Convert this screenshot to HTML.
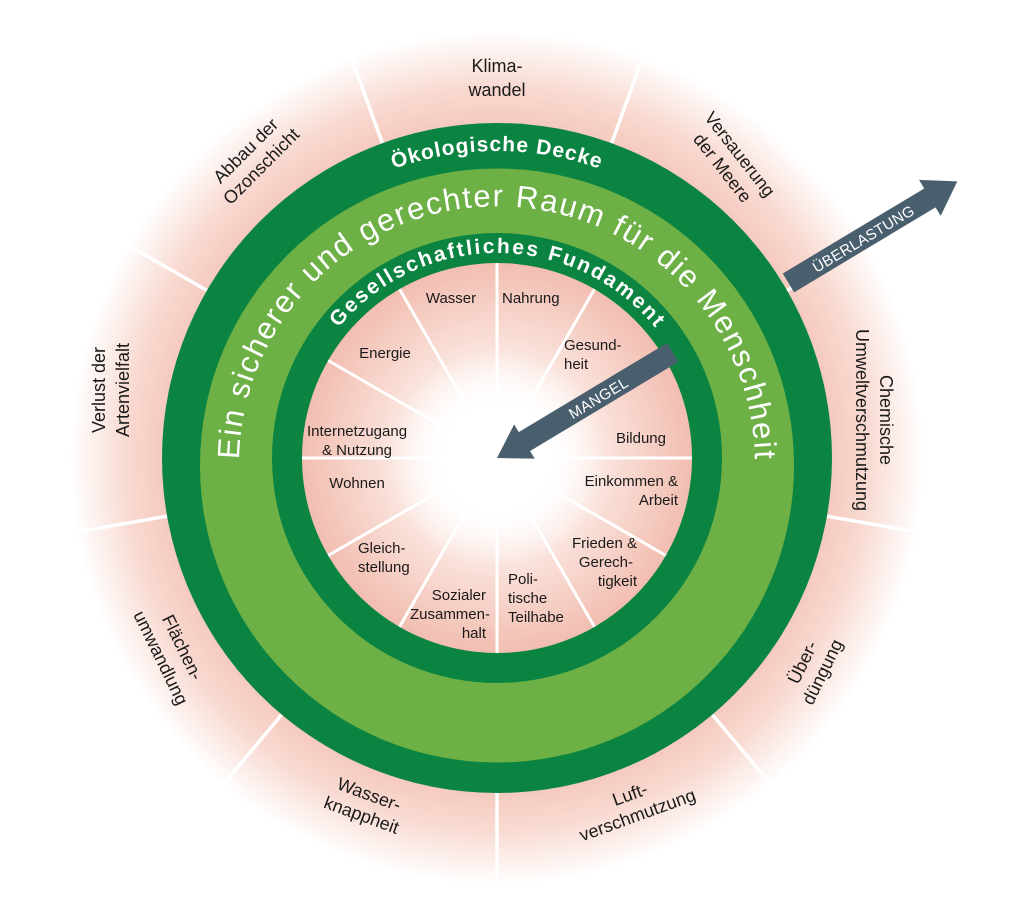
<!DOCTYPE html>
<html><head><meta charset="utf-8"><style>
html,body{margin:0;padding:0;background:#fff;width:1024px;height:919px;overflow:hidden}
svg{display:block}
text{font-family:"Liberation Sans","DejaVu Sans",sans-serif}
.o{font-size:18px;fill:#1a1a1a;text-anchor:middle}
.i{font-size:15px;fill:#1a1a1a}
</style></head><body>
<svg width="1024" height="919" viewBox="0 0 1024 919">
<defs>
<radialGradient id="og" cx="497" cy="458" r="440" gradientUnits="userSpaceOnUse">
<stop offset="0.7" stop-color="#f3bfb1"/>
<stop offset="0.84" stop-color="#f8d9d0"/>
<stop offset="0.97" stop-color="#ffffff"/>
</radialGradient>
<radialGradient id="ig" cx="497" cy="458" r="196" gradientUnits="userSpaceOnUse">
<stop offset="0" stop-color="#ffffff"/>
<stop offset="0.25" stop-color="#ffffff"/>
<stop offset="0.55" stop-color="#fae3dc"/>
<stop offset="1" stop-color="#f2bdb0"/>
</radialGradient>
<radialGradient id="cg" cx="497" cy="458" r="110" gradientUnits="userSpaceOnUse">
<stop offset="0" stop-color="#fff" stop-opacity="1"/>
<stop offset="0.5" stop-color="#fff" stop-opacity="0.9"/>
<stop offset="1" stop-color="#fff" stop-opacity="0"/>
</radialGradient>
<path id="p1" d="M190,458 A307,307 0 0 1 804,458"/>
<path id="p2" d="M240,487 A258,258 0 1 1 754,487"/>
<path id="p3" d="M292,458 A205,205 0 0 1 702,458"/>
</defs>
<circle cx="497" cy="458" r="440" fill="url(#og)"/>
<g transform="translate(497,458)" stroke="#fff" stroke-width="3.5">
<line x1="0" y1="-335" x2="0" y2="-440" transform="rotate(20)"/>
<line x1="0" y1="-335" x2="0" y2="-440" transform="rotate(-20)"/>
<line x1="0" y1="-335" x2="0" y2="-440" transform="rotate(60)"/>
<line x1="0" y1="-335" x2="0" y2="-440" transform="rotate(-60)"/>
<line x1="0" y1="-335" x2="0" y2="-440" transform="rotate(100)"/>
<line x1="0" y1="-335" x2="0" y2="-440" transform="rotate(-100)"/>
<line x1="0" y1="-335" x2="0" y2="-440" transform="rotate(140)"/>
<line x1="0" y1="-335" x2="0" y2="-440" transform="rotate(-140)"/>
<line x1="0" y1="-335" x2="0" y2="-440" transform="rotate(180)"/>
</g>
<circle cx="497" cy="458" r="335" fill="#0b8441"/>
<circle cx="497" cy="465.5" r="297" fill="#6db045"/>
<circle cx="497" cy="458" r="225" fill="#0b8441"/>
<circle cx="497" cy="458" r="195" fill="url(#ig)"/>
<g transform="translate(497,458)" stroke="#fff" stroke-width="3">
<line x1="0" y1="-40" x2="0" y2="-195"/>
<line x1="0" y1="-40" x2="0" y2="-195" transform="rotate(30)"/>
<line x1="0" y1="-40" x2="0" y2="-195" transform="rotate(60)"/>
<line x1="0" y1="-40" x2="0" y2="-195" transform="rotate(90)"/>
<line x1="0" y1="-40" x2="0" y2="-195" transform="rotate(120)"/>
<line x1="0" y1="-40" x2="0" y2="-195" transform="rotate(150)"/>
<line x1="0" y1="-40" x2="0" y2="-195" transform="rotate(180)"/>
<line x1="0" y1="-40" x2="0" y2="-195" transform="rotate(210)"/>
<line x1="0" y1="-40" x2="0" y2="-195" transform="rotate(240)"/>
<line x1="0" y1="-40" x2="0" y2="-195" transform="rotate(270)"/>
<line x1="0" y1="-40" x2="0" y2="-195" transform="rotate(300)"/>
<line x1="0" y1="-40" x2="0" y2="-195" transform="rotate(330)"/>
</g>
<circle cx="497" cy="458" r="110" fill="url(#cg)"/>

<text font-size="21" font-weight="bold" fill="#fff" letter-spacing="1"><textPath href="#p1" startOffset="50%" text-anchor="middle">Ökologische Decke</textPath></text>
<text font-size="31" fill="#fff"><textPath href="#p2" startOffset="50%" text-anchor="middle" textLength="800" lengthAdjust="spacing">Ein sicherer und gerechter Raum für die Menschheit</textPath></text>
<text font-size="21" font-weight="bold" fill="#fff"><textPath href="#p3" startOffset="50%" text-anchor="middle" textLength="362" lengthAdjust="spacing">Gesellschaftliches Fundament</textPath></text>

<!-- arrows -->
<g transform="translate(497,458) rotate(-31)" fill="#4a5f6e">
<polygon points="0,0 32,-20 32,-11 205,-11 205,11 32,11 32,20"/>
<text x="118" y="6" font-size="15" fill="#fff" text-anchor="middle" letter-spacing="0.5">MANGEL</text>
<polygon points="340,-11 505,-11 505,-21 537,0 505,21 505,11 340,11"/>
<text x="427" y="6" font-size="15" fill="#fff" text-anchor="middle" letter-spacing="0.3">ÜBERLASTUNG</text>
</g>

<!-- outer labels -->
<text class="o" x="497" y="72">Klima-<tspan x="497" dy="24">wandel</tspan></text>
<text class="o" transform="translate(735,158) rotate(52)">Versauerung<tspan x="0" dy="22">der Meere</tspan></text>
<text class="o" transform="translate(880,420) rotate(90)">Chemische<tspan x="0" dy="24">Umweltverschmutzung</tspan></text>
<text class="o" transform="translate(808,665) rotate(-64)">Über-<tspan x="0" dy="22">düngung</tspan></text>
<text class="o" transform="translate(632,800) rotate(-20)">Luft-<tspan x="0" dy="22">verschmutzung</tspan></text>
<text class="o" transform="translate(367,800) rotate(20)">Wasser-<tspan x="0" dy="22">knappheit</tspan></text>
<text class="o" transform="translate(177,650) rotate(64)">Flächen-<tspan x="0" dy="24">umwandlung</tspan></text>
<text class="o" transform="translate(105,390) rotate(-90)">Verlust der<tspan x="0" dy="24">Artenvielfalt</tspan></text>
<text class="o" transform="translate(250,155) rotate(-45)">Abbau der<tspan x="0" dy="22">Ozonschicht</tspan></text>

<!-- inner labels -->
<text class="i" x="451" y="303" text-anchor="middle">Wasser</text>
<text class="i" x="502" y="303">Nahrung</text>
<text class="i" x="564" y="350">Gesund-<tspan x="564" dy="19">heit</tspan></text>
<text class="i" x="385" y="358" text-anchor="middle">Energie</text>
<text class="i" x="357" y="436" text-anchor="middle">Internetzugang<tspan x="357" dy="19">&amp; Nutzung</tspan></text>
<text class="i" x="666" y="443" text-anchor="end">Bildung</text>
<text class="i" x="357" y="488" text-anchor="middle">Wohnen</text>
<text class="i" x="678" y="486" text-anchor="end">Einkommen &amp;<tspan x="678" dy="19">Arbeit</tspan></text>
<text class="i" x="358" y="553">Gleich-<tspan x="358" dy="19">stellung</tspan></text>
<text class="i" x="637" y="548" text-anchor="end">Frieden &amp;<tspan x="633" dy="19">Gerech-</tspan><tspan x="637" dy="19">tigkeit</tspan></text>
<text class="i" x="508" y="584">Poli-<tspan x="508" dy="19">tische</tspan><tspan x="508" dy="19">Teilhabe</tspan></text>
<text class="i" x="486" y="600" text-anchor="end">Sozialer<tspan x="490" dy="19">Zusammen-</tspan><tspan x="486" dy="19">halt</tspan></text>
</svg>
</body></html>
